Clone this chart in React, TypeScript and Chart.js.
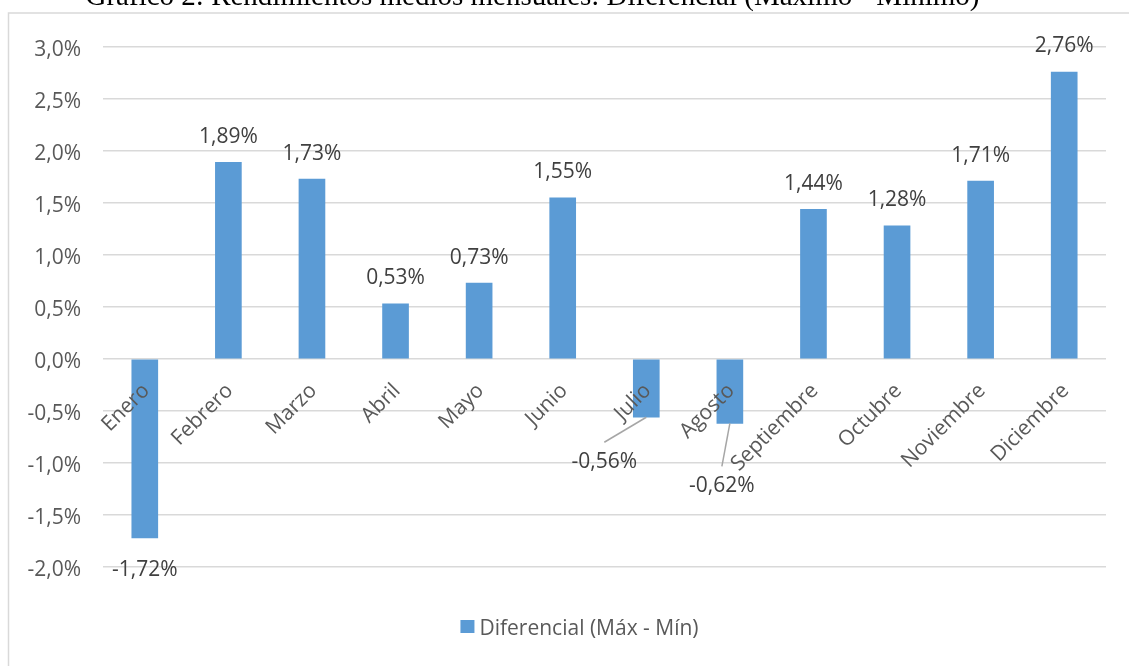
import React, { useEffect, useRef } from "react";
import { Chart, registerables } from "chart.js";

Chart.register(...registerables);

const TITLE = "Gráfico 2: Rendimientos medios mensuales: Diferencial (Máximo - Mínimo)";
const SERIES_LABEL = "Diferencial (Máx - Mín)";
const MONTHS = [
  "Enero", "Febrero", "Marzo", "Abril", "Mayo", "Junio",
  "Julio", "Agosto", "Septiembre", "Octubre", "Noviembre", "Diciembre",
];
const DIFERENCIAL = [-1.72, 1.89, 1.73, 0.53, 0.73, 1.55, -0.56, -0.62, 1.44, 1.28, 1.71, 2.76];
const Y_MIN = -2;
const Y_MAX = 3;
const Y_STEP = 0.5;
const Y_TICKS = [3, 2.5, 2, 1.5, 1, 0.5, 0, -0.5, -1, -1.5, -2];

const BAR_COLOR = "#5b9bd5";
const AXIS_TEXT = "#595959";
const LABEL_TEXT = "#404040";
const GRID = "#d9d9d9";
const FONT = '"Open Sans", "Noto Sans", sans-serif';

const pct = (v: number, digits: number) => v.toFixed(digits).replace(".", ",") + "%";

// Labels that were dragged away from their bars, with a leader line back to the bar end
const MOVED_LABELS: Record<number, { dx: number; dy: number }> = {
  6: { dx: -42, dy: 13 },
  7: { dx: -8, dy: 31 },
};

const decor = {
  id: "decor",
  beforeDraw(chart: any) {
    const ctx = chart.ctx;
    ctx.save();
    ctx.fillStyle = "#ffffff";
    ctx.fillRect(0, 0, chart.width, chart.height);
    // chart frame
    ctx.strokeStyle = GRID;
    ctx.lineWidth = 1.5;
    ctx.beginPath();
    ctx.moveTo(8.5, chart.height + 10);
    ctx.lineTo(8.5, 13);
    ctx.lineTo(chart.width + 10, 13);
    ctx.stroke();
    // document caption above the frame
    ctx.fillStyle = "#000000";
    ctx.font = '29px "Liberation Serif", "Times New Roman", serif';
    ctx.textAlign = "center";
    ctx.textBaseline = "alphabetic";
    ctx.fillText(TITLE, 532.5, 5);
    ctx.restore();
  },
  afterDraw(chart: any) {
    const ctx = chart.ctx;
    const xs = chart.scales.x;
    const ys = chart.scales.y;
    const meta = chart.getDatasetMeta(0);
    const y0 = ys.getPixelForValue(0);
    ctx.save();

    // value axis labels
    ctx.font = `21px ${FONT}`;
    ctx.fillStyle = AXIS_TEXT;
    ctx.textAlign = "right";
    ctx.textBaseline = "alphabetic";
    Y_TICKS.forEach((t) => {
      ctx.fillText(pct(t, 1), ys.right - 22, ys.getPixelForValue(t) + 8.5);
    });

    // rotated category labels just under the zero line
    MONTHS.forEach((m, i) => {
      const x = xs.getPixelForValue(i);
      ctx.save();
      ctx.translate(x - 6, y0 + 21);
      ctx.rotate(-Math.PI / 4);
      ctx.textAlign = "right";
      ctx.textBaseline = "top";
      ctx.fillText(m, 0, 0);
      ctx.restore();
    });

    // value labels
    ctx.fillStyle = LABEL_TEXT;
    ctx.textAlign = "center";
    ctx.textBaseline = "alphabetic";
    DIFERENCIAL.forEach((v, i) => {
      const bar = meta.data[i];
      const end = bar.y;
      let lx = bar.x;
      let ly = v >= 0 ? end - 19.5 : end + 38;
      const moved = MOVED_LABELS[i];
      if (moved) {
        lx += moved.dx;
        ly += moved.dy;
        ctx.save();
        ctx.strokeStyle = "#a6a6a6";
        ctx.lineWidth = 1.5;
        ctx.beginPath();
        ctx.moveTo(bar.x, end);
        ctx.lineTo(lx, ly - 26);
        ctx.stroke();
        ctx.restore();
      }
      ctx.fillText(pct(v, 2), lx, ly);
    });

    // legend
    const tw = ctx.measureText(SERIES_LABEL).width;
    const total = 14 + 5 + tw;
    const lx0 = 579.5 - total / 2;
    ctx.fillStyle = BAR_COLOR;
    ctx.fillRect(lx0, 620, 14, 13);
    ctx.fillStyle = AXIS_TEXT;
    ctx.textAlign = "left";
    ctx.fillText(SERIES_LABEL, lx0 + 19, 635);

    ctx.restore();
  },
};

export default function App() {
  const canvasRef = useRef<HTMLCanvasElement | null>(null);

  useEffect(() => {
    const canvas = canvasRef.current;
    if (!canvas) return;
    const chart = new Chart(canvas, {
      type: "bar",
      data: {
        labels: MONTHS,
        datasets: [
          {
            label: SERIES_LABEL,
            data: DIFERENCIAL,
            backgroundColor: BAR_COLOR,
            borderWidth: 0,
            barThickness: 26,
          },
        ],
      },
      options: {
        animation: false,
        responsive: true,
        maintainAspectRatio: false,
        layout: { padding: { left: 0, top: 47, right: 23, bottom: 99 } },
        plugins: {
          legend: { display: false },
          tooltip: { enabled: false },
          title: { display: false },
        },
        scales: {
          x: { display: false },
          y: {
            min: Y_MIN,
            max: Y_MAX,
            afterFit: (scale: any) => {
              scale.width = 103;
            },
            border: { display: false },
            grid: { color: GRID, lineWidth: 1.5, drawTicks: false },
            ticks: { stepSize: Y_STEP, display: false },
          },
        },
      },
      plugins: [decor],
    });
    return () => chart.destroy();
  }, []);

  return (
    <div style={{ position: "absolute", left: 0, top: 0, width: 1129, height: 666, overflow: "hidden" }}>
      <canvas ref={canvasRef} />
    </div>
  );
}
